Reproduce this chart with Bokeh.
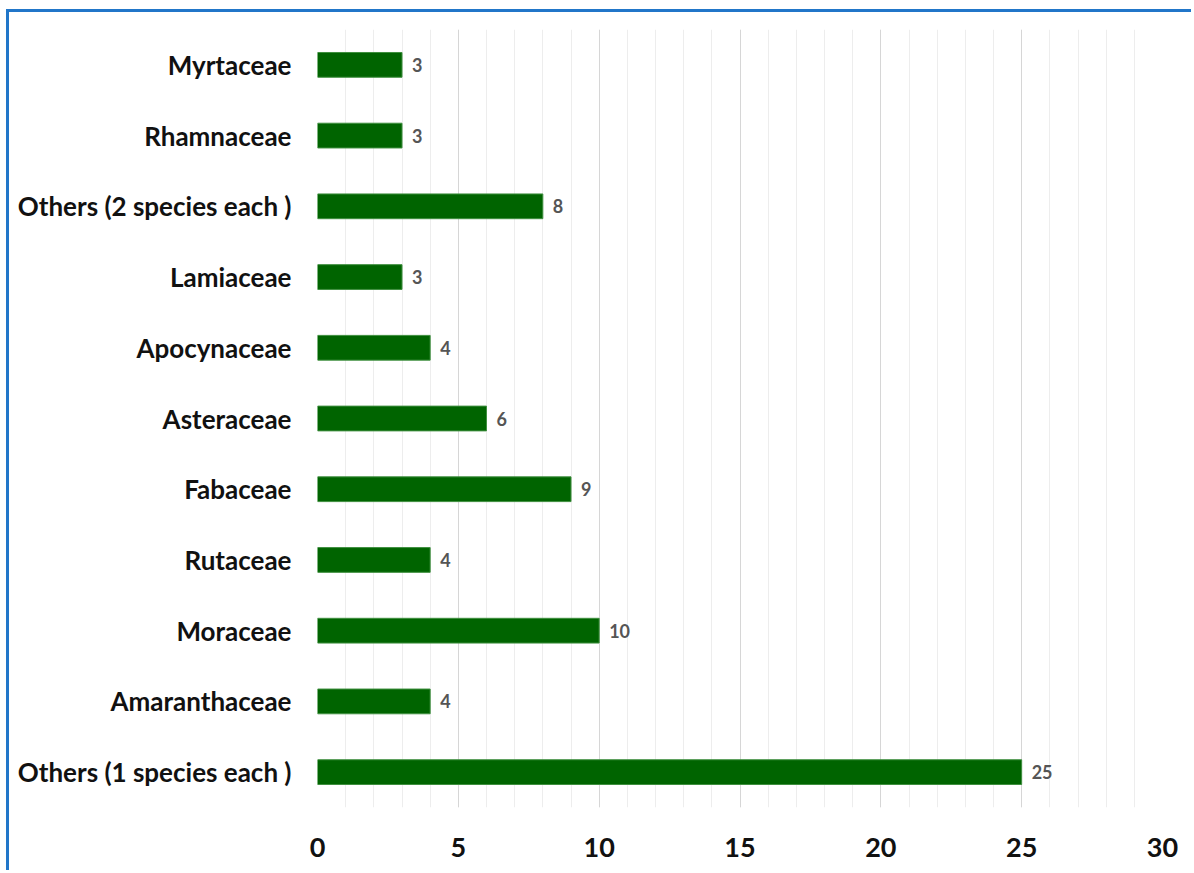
from bokeh.plotting import figure
from bokeh.models import FactorRange, Range1d, SingleIntervalTicker, ColumnDataSource
from bokeh.core.properties import value
from bokeh.embed import file_html
from bokeh.resources import INLINE

families = ["Others (1 species each )", "Amaranthaceae", "Moraceae", "Rutaceae",
            "Fabaceae", "Asteraceae", "Apocynaceae", "Lamiaceae",
            "Others (2 species each )", "Rhamnaceae", "Myrtaceae"]
species = [25, 4, 10, 4, 9, 6, 4, 3, 8, 3, 3]
x_ticks = [0, 5, 10, 15, 20, 25, 30]

FONT = "Lato"

src = ColumnDataSource(dict(fam=families, n=species, lab=[str(v) for v in species]))

p = figure(width=1185, height=861, output_backend="svg", toolbar_location=None,
           y_range=FactorRange(*families), x_range=Range1d(0, 30),
           min_border_left=308, min_border_right=32, min_border_top=17, min_border_bottom=66,
           styles={"border-left": "3px solid #2176c9", "border-top": "3px solid #2176c9",
                   "margin-left": "6px", "margin-top": "9px"})
p.outline_line_color = None
p.background_fill_color = "white"

p.hbar(y="fam", right="n", left=0, height=0.35, source=src,
       fill_color="#006400", line_color="#3f8f3f", line_width=1)
p.text(x="n", y="fam", text="lab", source=src, x_offset=10,
       text_baseline="middle", text_align="left", text_color="#555555",
       text_font=value(FONT), text_font_style="bold", text_font_size="18px")

ticker = SingleIntervalTicker(interval=5, num_minor_ticks=5)
p.xaxis.ticker = ticker
p.xgrid.ticker = ticker
p.xgrid.grid_line_color = "#d6d6d6"
p.xgrid.grid_line_width = 1
p.xgrid.minor_grid_line_color = "#ededed"
p.xgrid.minor_grid_line_width = 1
p.ygrid.grid_line_color = None

for ax in (p.xaxis[0], p.yaxis[0]):
    ax.axis_line_color = None
    ax.major_tick_line_color = None
    ax.minor_tick_line_color = None
    ax.major_label_text_font = FONT
    ax.major_label_text_font_style = "bold"
    ax.major_label_text_color = "#111111"

p.xaxis.major_label_text_font_size = "27px"
p.xaxis.major_label_standoff = 24
p.yaxis.major_label_text_font_size = "26px"
p.yaxis.major_label_standoff = 20

open("out.html", "w").write(file_html(p, INLINE))
